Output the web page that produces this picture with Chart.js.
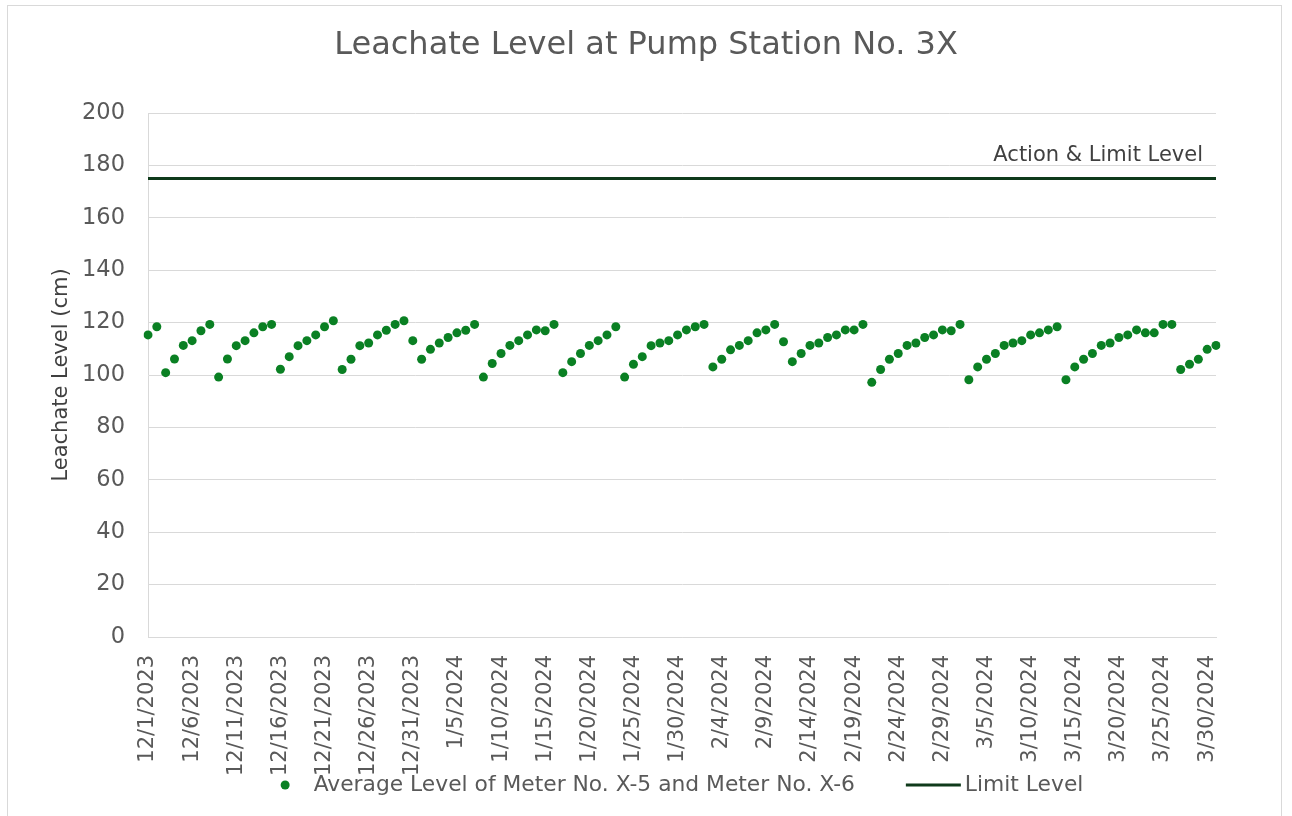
<!DOCTYPE html>
<html>
<head>
<meta charset="utf-8">
<title>Leachate Level at Pump Station No. 3X</title>
<script src="https://cdn.jsdelivr.net/npm/chart.js@4.4.6/dist/chart.umd.min.js"></script>
<style>
  html, body { margin: 0; padding: 0; background: #ffffff; }
  #wrap { position: relative; width: 1292px; height: 816px; overflow: hidden; }
  #frame { position: absolute; left: 7px; top: 5px; width: 1275px; height: 830px; border: 1px solid #d9d9d9; box-sizing: border-box; }
  #chart { position: absolute; left: 0; top: 0; }
</style>
</head>
<body>
<div id="wrap">
  <div id="frame"></div>
  <canvas id="chart" width="1292" height="816"></canvas>
</div>
<script>
// Datos: un punto por día, 12/1/2023 → 3/31/2024
const TITULO = 'Leachate Level at Pump Station No. 3X';
const SERIE_NOMBRE = 'Average Level of Meter No. X-5 and Meter No. X-6';
const LIMITE_NOMBRE = 'Limit Level';
const LIMITE_ETIQUETA = 'Action & Limit Level';
const LIMITE = 175;

const niveles = [
  115.3, 118.4, 100.9, 106.1, 111.3, 113.1, 116.9, 119.3, 99.2, 106.1,
  111.2, 113.1, 116.1, 118.4, 119.3, 102.2, 107.0, 111.2, 113.1, 115.3,
  118.4, 120.7, 102.1, 106.0, 111.2, 112.2, 115.3, 117.1, 119.3, 120.7,
  113.1, 106.0, 109.8, 112.2, 114.3, 116.1, 117.1, 119.3, 99.2, 104.4,
  108.2, 111.3, 113.1, 115.3, 117.2, 116.9, 119.3, 100.9, 105.1, 108.2,
  111.3, 113.1, 115.3, 118.4, 99.2, 104.1, 107.0, 111.2, 112.2, 113.1,
  115.3, 117.2, 118.4, 119.3, 103.1, 106.0, 109.6, 111.3, 113.1, 116.1,
  117.2, 119.3, 112.7, 105.1, 108.2, 111.3, 112.2, 114.3, 115.3, 117.2,
  117.2, 119.3, 97.2, 102.1, 106.0, 108.2, 111.3, 112.2, 114.3, 115.3,
  117.2, 116.9, 119.3, 98.2, 103.1, 106.0, 108.2, 111.3, 112.2, 113.1,
  115.3, 116.1, 117.2, 118.4, 98.2, 103.1, 106.0, 108.2, 111.3, 112.2,
  114.3, 115.3, 117.2, 116.1, 116.1, 119.3, 119.3, 102.1, 104.1, 106.0,
  109.8, 111.3
];

// Categorías: fechas diarias (m/d/yyyy)
const fechas = [];
for (let d = new Date(2023, 11, 1); d <= new Date(2024, 2, 31); d.setDate(d.getDate() + 1)) {
  fechas.push(`${d.getMonth() + 1}/${d.getDate()}/${d.getFullYear()}`);
}
const PASO_ETIQUETA = 5;

const limiteDatos = [
  { x: fechas[0], y: LIMITE },
  { x: fechas[fechas.length - 1], y: LIMITE },
];

const FUENTE = '"DejaVu Sans", Verdana, sans-serif';
const GRIS_TEXTO = '#595959';
const GRIS_LINEA = '#d9d9d9';
const VERDE = '#0a8023';
const VERDE_OSCURO = '#0f3a1b';

const PLOT_LEFT = 148;
const PLOT_TOP = 113;
const PLOT_BOTTOM = 637;
const ALTO_EJE_X = 160;

// Título centrado sobre todo el lienzo (como en Excel)
const titulo = {
  id: 'tituloCentrado',
  afterDraw(chart) {
    const { ctx, width } = chart;
    ctx.save();
    ctx.font = `32px ${FUENTE}`;
    ctx.fillStyle = GRIS_TEXTO;
    ctx.textAlign = 'center';
    ctx.textBaseline = 'middle';
    ctx.fillText(TITULO, width / 2, 46);
    ctx.restore();
  },
};

// Texto "Action & Limit Level" sobre la línea de límite
const etiquetaLimite = {
  id: 'etiquetaLimite',
  afterDatasetsDraw(chart) {
    const { ctx, chartArea, scales } = chart;
    const y = scales.y.getPixelForValue(LIMITE);
    ctx.save();
    ctx.font = `21px ${FUENTE}`;
    ctx.fillStyle = '#404040';
    ctx.textAlign = 'right';
    ctx.textBaseline = 'middle';
    ctx.fillText(LIMITE_ETIQUETA, chartArea.right - 13, y - 23);
    ctx.restore();
  },
};

// Leyenda inferior al estilo Excel
const leyenda = {
  id: 'leyendaInferior',
  afterDraw(chart) {
    const { ctx, chartArea } = chart;
    ctx.save();
    ctx.font = `21.8px ${FUENTE}`;
    const w1 = ctx.measureText(SERIE_NOMBRE).width;
    const w2 = ctx.measureText(LIMITE_NOMBRE).width;
    const total = 9 + 24 + w1 + 51 + 55 + 4 + w2;
    let x = (chartArea.left + chartArea.right) / 2 - total / 2;
    const y = 785;
    ctx.fillStyle = VERDE;
    ctx.beginPath();
    ctx.arc(x + 4.5, y, 4.5, 0, Math.PI * 2);
    ctx.fill();
    x += 9 + 24;
    ctx.fillStyle = GRIS_TEXTO;
    ctx.textBaseline = 'middle';
    ctx.textAlign = 'left';
    ctx.fillText(SERIE_NOMBRE, x, y);
    x += w1 + 51;
    ctx.strokeStyle = VERDE_OSCURO;
    ctx.lineWidth = 3;
    ctx.beginPath();
    ctx.moveTo(x, y);
    ctx.lineTo(x + 55, y);
    ctx.stroke();
    x += 55 + 4;
    ctx.fillText(LIMITE_NOMBRE, x, y);
    ctx.restore();
  },
};

new Chart(document.getElementById('chart'), {
  type: 'line',
  data: {
    labels: fechas,
    datasets: [
      {
        label: SERIE_NOMBRE,
        data: niveles,
        showLine: false,
        pointRadius: 4.5,
        pointHoverRadius: 4.5,
        pointBorderWidth: 0,
        pointBackgroundColor: VERDE,
        borderColor: VERDE,
        backgroundColor: VERDE,
      },
      {
        label: LIMITE_NOMBRE,
        data: limiteDatos,
        borderColor: VERDE_OSCURO,
        borderWidth: 3,
        pointRadius: 0,
        fill: false,
      },
    ],
  },
  options: {
    responsive: false,
    animation: false,
    layout: { padding: { left: 0, right: 76, top: PLOT_TOP, bottom: 816 - PLOT_BOTTOM - ALTO_EJE_X } },
    plugins: {
      legend: { display: false },
      tooltip: { enabled: false },
      title: { display: false },
    },
    scales: {
      x: {
        type: 'category',
        grid: { display: false, drawTicks: false },
        border: { display: true, color: GRIS_LINEA, width: 1 },
        ticks: {
          autoSkip: false,
          minRotation: 90,
          maxRotation: 90,
          padding: 18,
          color: GRIS_TEXTO,
          font: { family: FUENTE, size: 21 },
          callback(valor, i) { return i % PASO_ETIQUETA === 0 ? fechas[i] : ''; },
        },
        afterFit(scale) { scale.height = ALTO_EJE_X; },
      },
      y: {
        min: 0,
        max: 200,
        grid: { color: GRIS_LINEA, lineWidth: 1, drawTicks: false },
        border: { display: true, color: GRIS_LINEA, width: 1 },
        ticks: {
          stepSize: 20,
          padding: 23,
          color: GRIS_TEXTO,
          font: { family: FUENTE, size: 22.5 },
        },
        title: {
          display: true,
          text: 'Leachate Level (cm)',
          color: '#404040',
          font: { family: FUENTE, size: 21 },
          padding: { top: 49, bottom: 0 },
        },
        afterFit(scale) { scale.width = PLOT_LEFT; },
      },
    },
  },
  plugins: [titulo, etiquetaLimite, leyenda],
});
</script>
</body>
</html>
